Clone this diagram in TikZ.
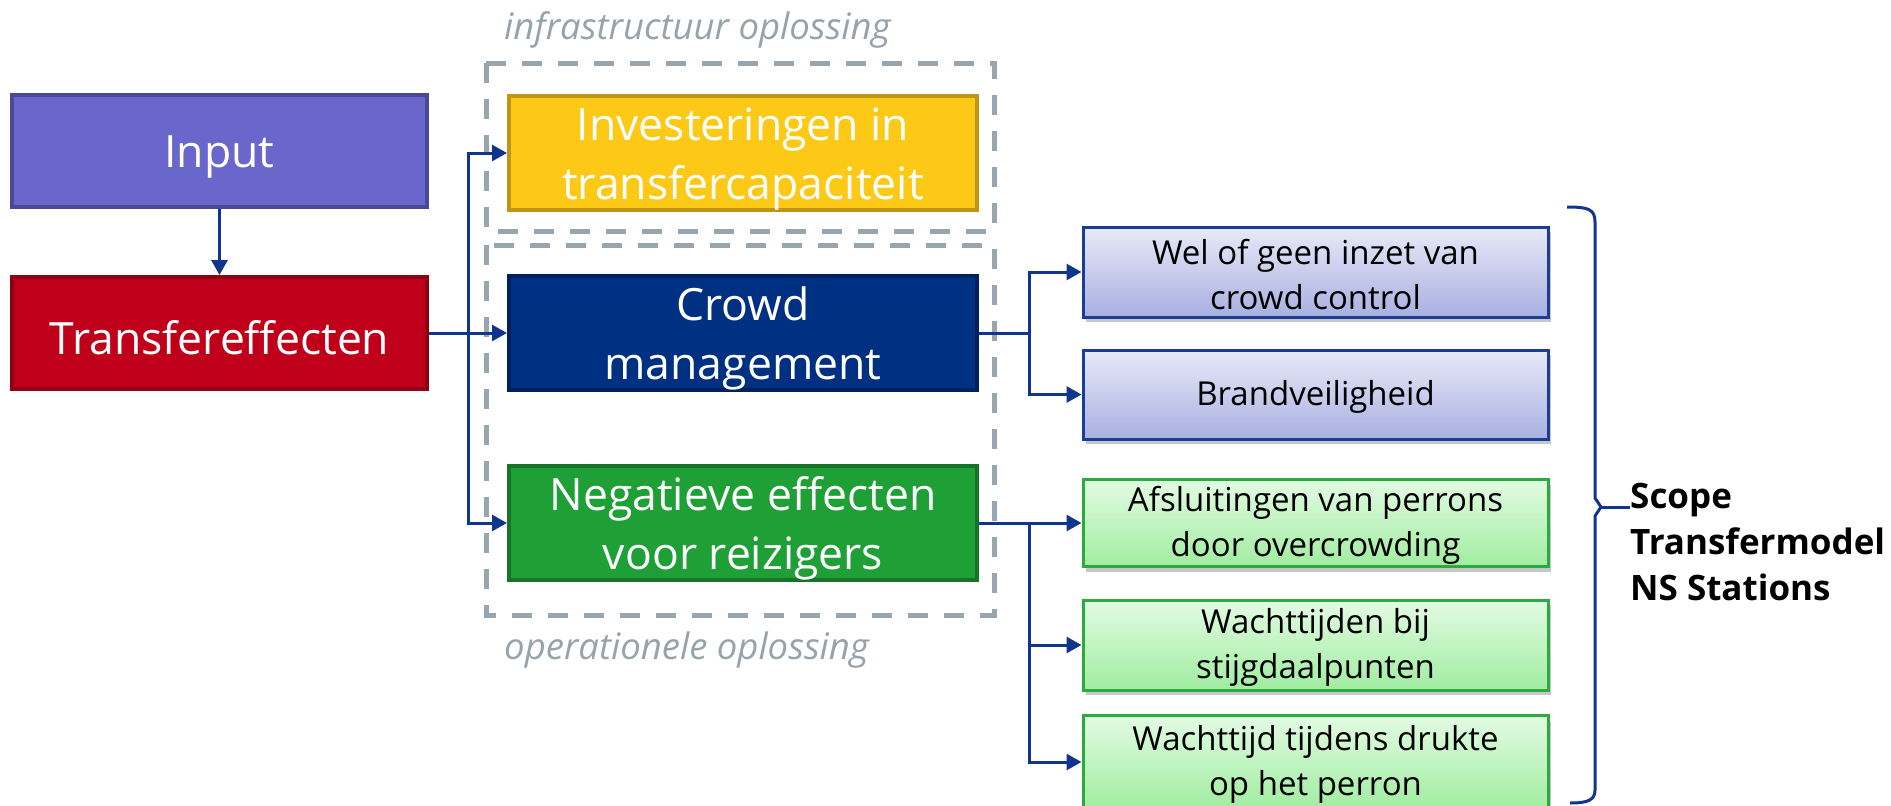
\documentclass[tikz,border=0pt]{standalone}
\usepackage{fontspec}
\setmainfont{Open Sans}
\usetikzlibrary{arrows.meta,shadows,positioning}
\definecolor{inpfill}{HTML}{6A67CC}
\definecolor{inpline}{HTML}{4B4898}
\definecolor{redfill}{HTML}{C0001A}
\definecolor{redline}{HTML}{8E0012}
\definecolor{yelfill}{HTML}{FCC917}
\definecolor{yelline}{HTML}{C09516}
\definecolor{nsblue}{HTML}{003082}
\definecolor{nsblueline}{HTML}{00205E}
\definecolor{grnfill}{HTML}{1EA036}
\definecolor{grnline}{HTML}{157427}
\definecolor{conn}{HTML}{0F358C}
\definecolor{dashgray}{HTML}{97A6AE}
\definecolor{lblgray}{HTML}{97A3AB}
\definecolor{lbtop}{HTML}{E8EAF8}
\definecolor{lbbot}{HTML}{A8B0E0}
\definecolor{lbline}{HTML}{1B3D95}
\definecolor{lgtop}{HTML}{E3FBE3}
\definecolor{lgbot}{HTML}{A0EDA0}
\definecolor{lgline}{HTML}{2DAA3F}
\newcommand{\bigstrut}{\rule{0pt}{44pt}}
\newcommand{\smallstrut}{\rule{0pt}{30pt}}
\tikzset{
  bigbox/.style={draw, line width=4pt, inner sep=0pt, align=center, text=white,
    minimum height=112pt, font=\fontsize{44.5}{59}\selectfont},
  leftbox/.style={bigbox, minimum width=415pt},
  midbox/.style={bigbox, minimum width=468pt},
  smallbox/.style={draw, line width=3pt, inner sep=0pt, align=center, text=black,
    minimum width=465pt, font=\fontsize{33}{45}\selectfont,
    drop shadow={shadow xshift=3pt, shadow yshift=-5pt, fill=black, opacity=.22}},
  bluebox/.style={smallbox, draw=lbline, top color=lbtop, bottom color=lbbot},
  greenbox/.style={smallbox, draw=lgline, top color=lgtop, bottom color=lgbot},
  dashbox/.style={draw=dashgray, line width=5pt, dash pattern=on 20pt off 16pt},
  conline/.style={draw=conn, line width=3pt},
  arr/.style={conline, -{Triangle[length=15pt,width=16pt]}},
  lbl/.style={text=lblgray, font=\fontsize{36.5}{42}\selectfont\itshape, inner sep=0pt, anchor=west}
}
\begin{document}
\begin{tikzpicture}[x=1pt,y={(0pt,-1pt)}]
\useasboundingbox (0,0) rectangle (1891,806);

% dashed group frames
\draw[dashbox] (486,63) rectangle (994,231);
\draw[dashbox] (486,245) rectangle (994,615);
\node[lbl] (lblinfra) at (504,30) {infrastructuur oplossing};
\node[lbl] (lblop) at (504,650) {operationele oplossing};

% left column
\node[leftbox, fill=inpfill, draw=inpline] (inp) at (219.5,150.5) {\bigstrut Input};
\node[leftbox, fill=redfill, draw=redline] (trans) at (219.5,333) {\bigstrut Transfereffecten};

% middle column
\node[midbox, fill=yelfill, draw=yelline] (inv) at (743,153) {\bigstrut Investeringen in\\transfercapaciteit};
\node[midbox, fill=nsblue, draw=nsblueline] (crowd) at (743,333) {\bigstrut Crowd\\management};
\node[midbox, fill=grnfill, draw=grnline] (neg) at (743,523) {\bigstrut Negatieve effecten\\voor reizigers};

% right column
\node[bluebox, minimum height=90pt] (wel) at (1315.5,272) {\smallstrut Wel of geen inzet van\\crowd control};
\node[bluebox, minimum height=89pt] (brand) at (1315.5,394.5) {\smallstrut Brandveiligheid};
\node[greenbox, minimum height=87pt] (afs) at (1315.5,523) {\smallstrut Afsluitingen van perrons\\door overcrowding};
\node[greenbox, minimum height=90pt] (wt1) at (1315.5,645) {\smallstrut Wachttijden bij\\stijgdaalpunten};
\node[greenbox, minimum height=93pt] (wt2) at (1315.5,762) {\smallstrut Wachttijd tijdens drukte\\op het perron};

% connectors
\draw[arr] (inp) -- (trans);
\coordinate (j1) at (468,333);
\draw[arr] (trans.east) -- (crowd.west);
\draw[arr] (j1) |- (inv.west);
\draw[arr] (j1) |- (neg.west);

\coordinate (j2) at (1029,333);
\draw[conline] (crowd.east) -- (j2);
\draw[arr] (j2) |- (wel.west);
\draw[arr] (j2) |- (brand.west);

\coordinate (j3) at (1029,523);
\draw[arr] (neg.east) -- (afs.west);
\draw[arr] (j3) |- (wt1.west);
\draw[arr] (j3) |- (wt2.west);

% brace
\draw[draw=conn, line width=3pt, line join=round]
  (1567,207) .. controls (1588,207) and (1595,209) .. (1595,222)
  -- (1595,498) -- (1601,507) -- (1595,516)
  -- (1595,790) .. controls (1595,800) and (1588,803) .. (1570,803);
\coordinate (tip) at (1601,507);
\node[font=\fontsize{35}{46}\selectfont\bfseries, align=left, inner sep=0pt, anchor=west] (scope) at (1630,542) {Scope\\Transfermodel\\NS Stations};
\draw[conline] (tip) -- (scope.west |- tip);
\end{tikzpicture}
\end{document}
